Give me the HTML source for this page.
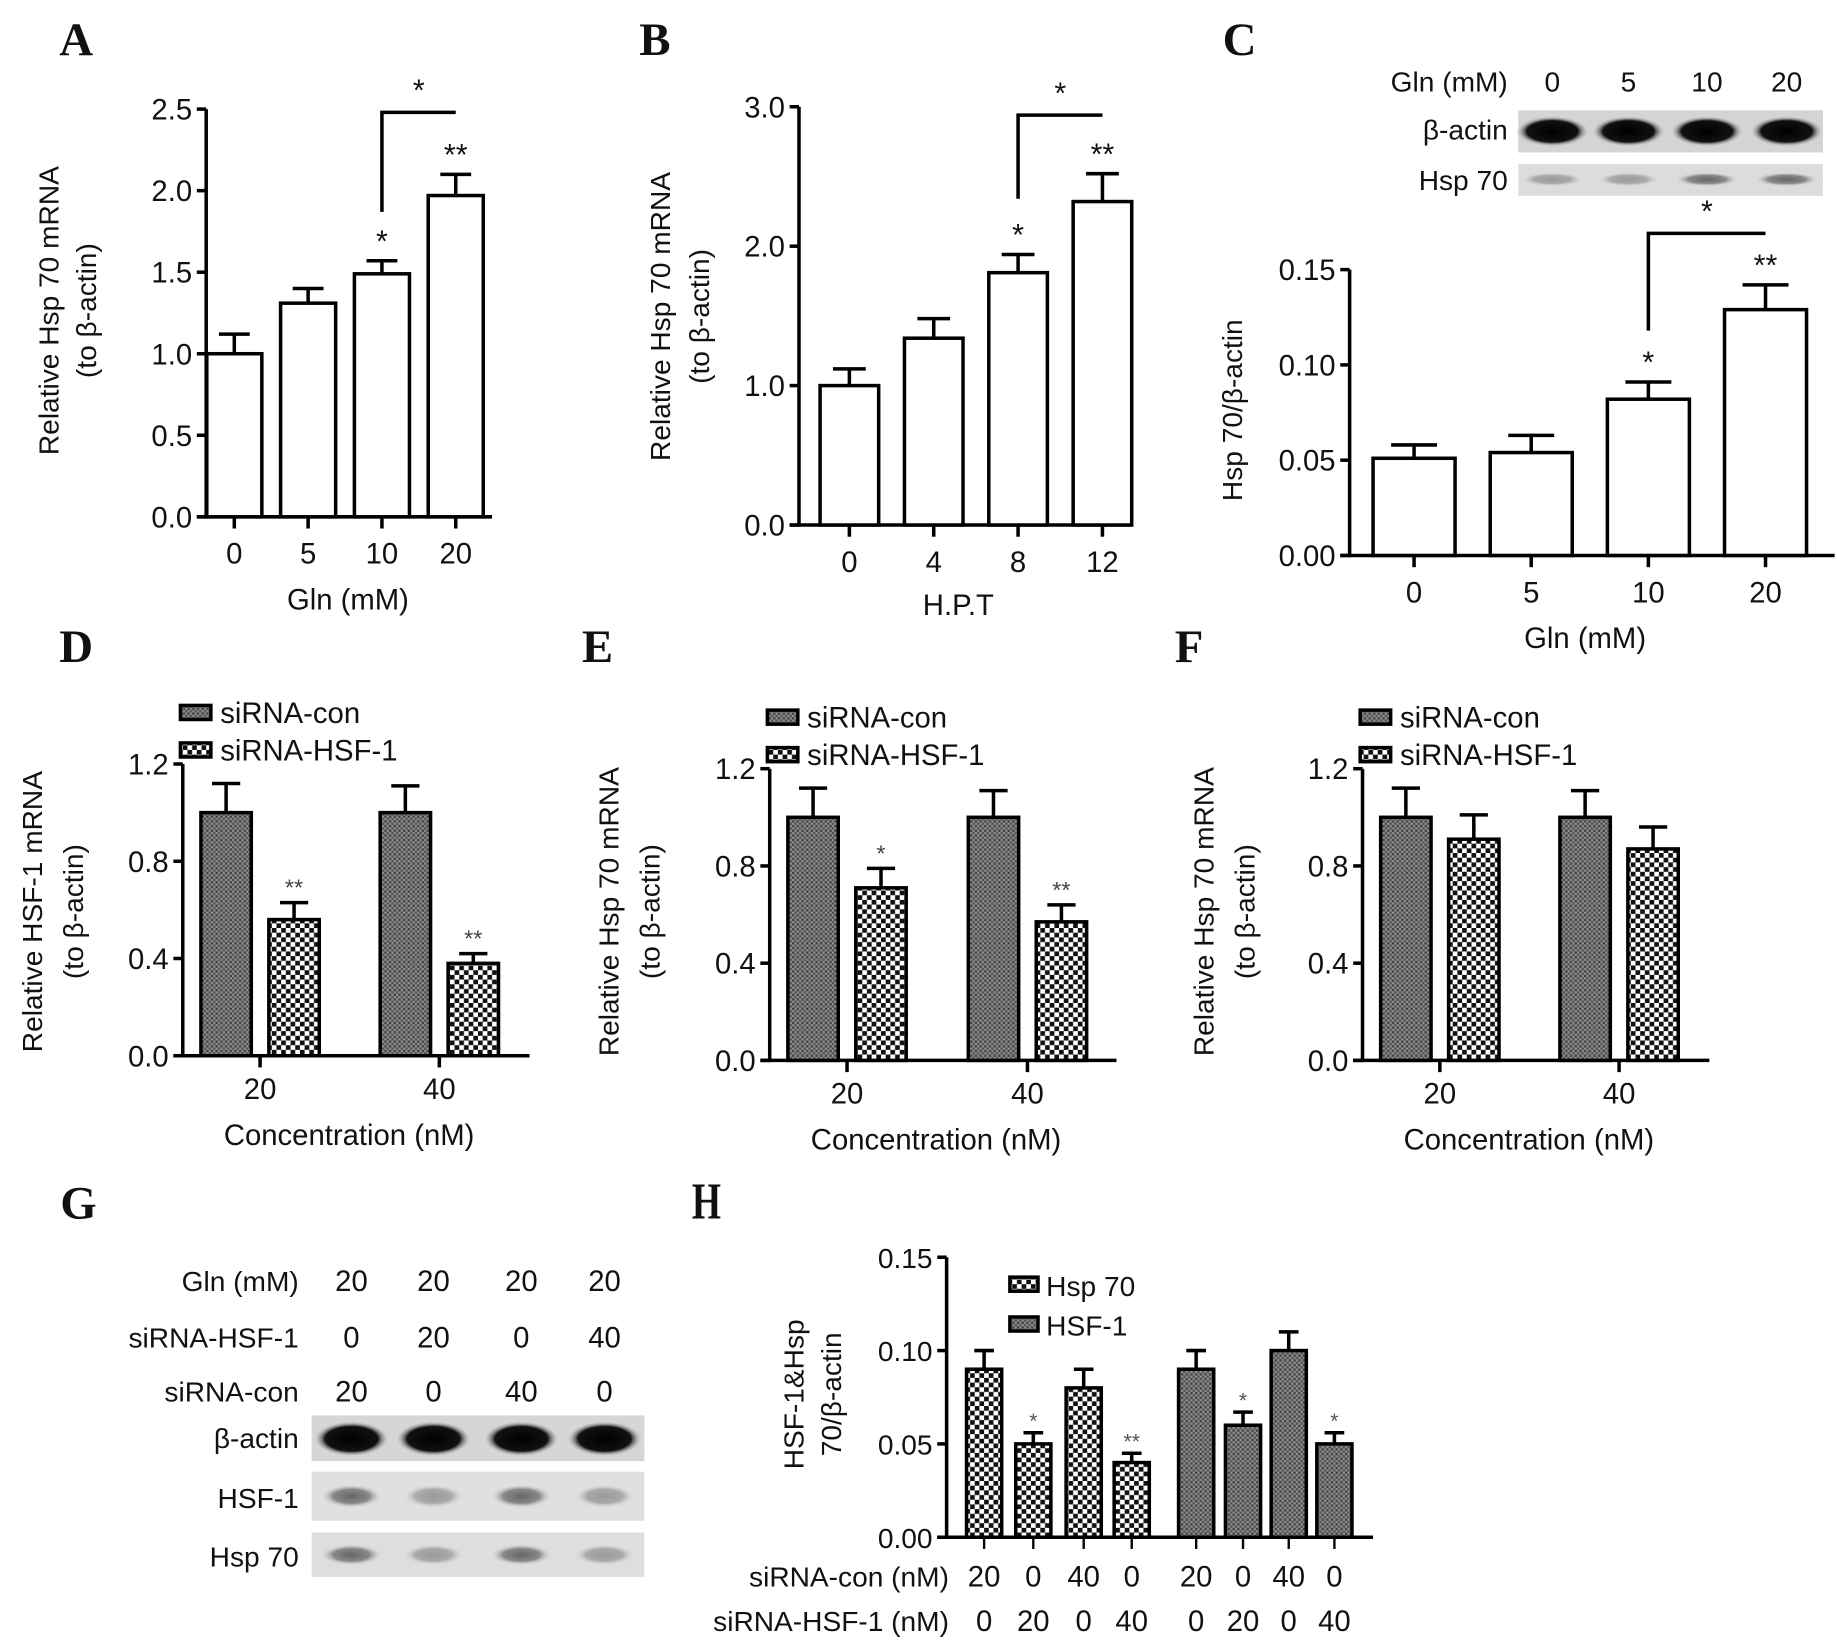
<!DOCTYPE html>
<html><head><meta charset="utf-8">
<style>
html,body{margin:0;padding:0;background:#fff;}
svg{display:block;}
text{font-family:"Liberation Sans",sans-serif;fill:#111;}
.pl{font-family:"Liberation Serif",serif;font-weight:bold;font-size:40px;}
</style></head>
<body>
<svg id="fig" width="1837" height="1644" viewBox="0 0 1568 1403" xmlns="http://www.w3.org/2000/svg">
<defs>
<pattern id="patCon" width="4" height="4" patternUnits="userSpaceOnUse">
<rect width="4" height="4" fill="#8a8a8a"/><rect width="2" height="2" fill="#444"/><rect x="2" y="2" width="2" height="2" fill="#555"/>
</pattern>
<pattern id="patHsf" width="8" height="8" patternUnits="userSpaceOnUse">
<rect width="8" height="8" fill="#fff"/><rect width="4" height="4" fill="#111"/><rect x="4" y="4" width="4" height="4" fill="#111"/>
</pattern>
<radialGradient id="bandDark"><stop offset="0" stop-color="#000"/><stop offset="0.7" stop-color="#111"/><stop offset="1" stop-color="#ccc" stop-opacity="0"/></radialGradient>
<radialGradient id="bandMid"><stop offset="0" stop-color="#666"/><stop offset="0.6" stop-color="#888"/><stop offset="1" stop-color="#d8d8d8" stop-opacity="0"/></radialGradient>
<radialGradient id="bandLight"><stop offset="0" stop-color="#999"/><stop offset="0.6" stop-color="#aaa"/><stop offset="1" stop-color="#ddd" stop-opacity="0"/></radialGradient>
</defs>
<g id="root"></g>
</svg>
<script>
// ---- data ----
const catsA = ["0","5","10","20"];
const valsA = [1.0, 1.31, 1.49, 1.97];
const errA = [0.12, 0.09, 0.08, 0.13];
const ticksA = [0, 0.5, 1.0, 1.5, 2.0, 2.5];
const tickLabelsA = ["0.0","0.5","1.0","1.5","2.0","2.5"];
const starsA = ["", "", "*", "**"];

const catsB = ["0","4","8","12"];
const valsB = [1.0, 1.34, 1.81, 2.32];
const errB = [0.12, 0.14, 0.13, 0.20];
const ticksB = [0, 1, 2, 3];
const tickLabelsB = ["0.0","1.0","2.0","3.0"];
const starsB = ["", "", "*", "**"];

const catsC = ["0","5","10","20"];
const valsC = [0.051, 0.054, 0.082, 0.129];
const errC = [0.007, 0.009, 0.009, 0.013];
const ticksC = [0, 0.05, 0.10, 0.15];
const tickLabelsC = ["0.00","0.05","0.10","0.15"];
const starsC = ["", "", "*", "**"];

const catsD = ["20","40"];
const conD = [1.0, 1.0];
const conErrD = [0.12, 0.11];
const hsfD = [0.56, 0.38];
const hsfErrD = [0.07, 0.04];
const starsD = ["**","**"];

const conE = [1.0, 1.0];
const conErrE = [0.12, 0.11];
const hsfE = [0.71, 0.57];
const hsfErrE = [0.08, 0.07];
const starsE = ["*","**"];

const conF = [1.0, 1.0];
const conErrF = [0.12, 0.11];
const hsfF = [0.91, 0.87];
const hsfErrF = [0.10, 0.09];
const starsF = ["",""];

const ticksDEF = [0, 0.4, 0.8, 1.2];
const tickLabelsDEF = ["0.0","0.4","0.8","1.2"];

const hspH = [0.09, 0.05, 0.08, 0.04];
const hspErrH = [0.01, 0.006, 0.01, 0.005];
const hsfH = [0.09, 0.06, 0.10, 0.05];
const hsfErrH = [0.01, 0.007, 0.01, 0.006];
const starsHspH = ["", "*", "", "**"];
const starsHsfH = ["", "*", "", "*"];
const conRowH = ["20","0","40","0","20","0","40","0"];
const hsfRowH = ["0","20","0","40","0","20","0","40"];
const ticksH = [0, 0.05, 0.10, 0.15];
const tickLabelsH = ["0.00","0.05","0.10","0.15"];

// ---- helpers ----
const NS = "http://www.w3.org/2000/svg";
const root = document.getElementById("root");
function el(tag, attrs, parent, txt){
  const e = document.createElementNS(NS, tag);
  for (const k in attrs) e.setAttribute(k, attrs[k]);
  if (txt !== undefined) e.textContent = txt;
  (parent || root).appendChild(e);
  return e;
}
function group(name){
  const g = el("g", {});
  
  
  return g;
}
function text(p, x, y, s, size, anchor, name, extra){
  const t = el("text", Object.assign({x:x, y:y, "font-size":size, "text-anchor":anchor||"middle"}, extra||{}), p, s);
  
  
  return t;
}
function line(p, x1,y1,x2,y2,w,name){
  const l = el("line",{x1:x1,y1:y1,x2:x2,y2:y2,stroke:"#000","stroke-width":w||3}, p);
  
  
  return l;
}
function yScale(y0, y1, vmax){ return v => y0 - (v / vmax) * (y0 - y1); }

function axes(g, ax, yBottom, yTop, xEnd, ticks, labels, ys, fs){
  line(g, ax, yTop, ax, yBottom+1.5, 3, "y-axis");
  line(g, ax-8, yBottom, xEnd, yBottom, 3, "x-axis");
  ticks.forEach((t,i)=>{
    const y = ys(t);
    line(g, ax-8, y, ax, y, 3, "y-tick");
    text(g, ax-12, y+9, labels[i], fs||25, "end", "y-tick-label");
  });
}
function ylab(g, x, yc, s, fs){
  return text(g, x, yc, s, fs||24, "middle", "y-axis-title", {transform:"rotate(-90 "+x+" "+yc+")"});
}
function bar(g, cx, w, v, e, ys, fill, name){
  const y0 = ys(0), y = ys(v), ye = ys(v+e);
  line(g, cx, y, cx, ye, 3, name+"-error");
  line(g, cx-w*0.28, ye, cx+w*0.28, ye, 3, name+"-error-cap");
  const r = el("rect",{x:cx-w/2, y:y, width:w, height:y0-y, fill:fill, stroke:"#000","stroke-width":3}, g);
  
  
  return ye;
}
function simplePanel(name, cfg){
  const g = group(name);
  const ys = yScale(cfg.y0, cfg.yTop, cfg.vmax);
  axes(g, cfg.ax, cfg.y0, cfg.yTop, cfg.xEnd, cfg.ticks, cfg.labels, ys, cfg.fs);
  cfg.cats.forEach((c,i)=>{
    const cx = cfg.xs[i];
    const ye = bar(g, cx, cfg.bw, cfg.vals[i], cfg.errs[i], ys, "#fff", "bar-"+c);
    line(g, cx, cfg.y0, cx, cfg.y0+10, 3, "x-tick");
    text(g, cx, cfg.y0+40, c, 25, "middle", "x-tick-label");
    if (cfg.stars[i]) text(g, cx, ye-8, cfg.stars[i], 26, "middle", "significance-star");
  });
  const x1 = cfg.xs[2], x2 = cfg.xs[3];
  const yb = ys(cfg.bracketV), yl = ys(cfg.bracketLow);
  const p = el("path",{d:`M${x1},${yl} V${yb} H${x2}`, fill:"none", stroke:"#000","stroke-width":3}, g);
  
  
  text(g, (x1+x2)/2, yb-10, "*", 26, "middle", "bracket-star");
  text(g, cfg.xlx, cfg.xly, cfg.xlabel, 25, "middle", "x-axis-title");
  return {g, ys};
}

// ---- Panel A ----
text(root, 65, 47, "A", 40, "middle", "panel-label-a", {class:"pl"});
const pA = simplePanel("panel-a", {ax:176, y0:441, yTop:93, vmax:2.5, xEnd:420, ticks:ticksA, labels:tickLabelsA,
  cats:catsA, xs:[200,263,326,389], bw:47, vals:valsA, errs:errA, stars:starsA, bracketV:2.48, bracketLow:1.87,
  xlabel:"Gln (mM)", xlx:297, xly:520});
ylab(pA.g, 50, 265, "Relative Hsp 70 mRNA");
ylab(pA.g, 82, 265, "(to β-actin)");

// ---- Panel B ----
text(root, 559, 47, "B", 40, "middle", "panel-label-b", {class:"pl"});
const pB = simplePanel("panel-b", {ax:682, y0:448, yTop:91, vmax:3.0, xEnd:966, ticks:ticksB, labels:tickLabelsB,
  cats:catsB, xs:[725,797,869,941], bw:50, vals:valsB, errs:errB, stars:starsB, bracketV:2.94, bracketLow:2.34,
  xlabel:"H.P.T", xlx:818, xly:525});
ylab(pB.g, 572, 270, "Relative Hsp 70 mRNA");
ylab(pB.g, 605, 270, "(to β-actin)");

// ---- Panel C ----
text(root, 1058, 47, "C", 40, "middle", "panel-label-c", {class:"pl"});
const pC = simplePanel("panel-c", {ax:1152, y0:474, yTop:230, vmax:0.15, xEnd:1566, ticks:ticksC, labels:tickLabelsC,
  cats:catsC, xs:[1207,1307,1407,1507], bw:70, vals:valsC, errs:errC, stars:starsC, bracketV:0.169, bracketLow:0.118,
  xlabel:"Gln (mM)", xlx:1353, xly:553});
ylab(pC.g, 1060, 350, "Hsp 70/β-actin");
// C blot
const gCb = group("panel-c-blot");
text(gCb, 1287, 78, "Gln (mM)", 24, "end", "blot-header");
["0","5","10","20"].forEach((s,i)=> text(gCb, [1325,1390,1457,1525][i], 78, s, 24, "middle", "blot-lane-label"));
text(gCb, 1287, 119, "β-actin", 24, "end", "blot-row-label");
text(gCb, 1287, 162, "Hsp 70", 24, "end", "blot-row-label");
el("rect",{x:1296,y:94,width:260,height:36,fill:"#d4d4d4"},gCb);
el("rect",{x:1296,y:140,width:260,height:27,fill:"#dcdcdc"},gCb);
[1325,1390,1457,1525].forEach((x,i)=>{
  el("ellipse",{cx:x,cy:112,rx:31,ry:13,fill:"url(#bandDark)"},gCb);
  el("ellipse",{cx:x,cy:153,rx:27,ry:6,fill:i<2?"url(#bandLight)":"url(#bandMid)"},gCb);
});

// ---- Panels D,E,F ----
function groupedPanel(name, cfg){
  const g = group(name);
  const ys = yScale(cfg.y0, cfg.yTop, 1.2);
  axes(g, cfg.ax, cfg.y0, cfg.yTop, cfg.ax+296, ticksDEF, tickLabelsDEF, ys, 25);
  catsD.forEach((c,i)=>{
    const cx = cfg.xs[i];
    bar(g, cx-29, 43, cfg.con[i], cfg.conErr[i], ys, "url(#patCon)", "bar-sirna-con-"+c);
    const ye = bar(g, cx+29, 43, cfg.hsf[i], cfg.hsfErr[i], ys, "url(#patHsf)", "bar-sirna-hsf1-"+c);
    if (cfg.stars[i]) { const t=text(g, cx+29, ye-6, cfg.stars[i], 20, "middle", "significance-star"); t.style.fill="#444"; }
    line(g, cx, cfg.y0, cx, cfg.y0+10, 3, "x-tick");
    text(g, cx, cfg.y0+37, c, 25, "middle", "x-tick-label");
  });
  text(g, cfg.ax+142, cfg.y0+76, "Concentration (nM)", 25, "middle", "x-axis-title");
  const lg = el("g",{},g);
  
  
  el("rect",{x:cfg.ax-2,y:cfg.yTop-50,width:26,height:12,fill:"url(#patCon)",stroke:"#000","stroke-width":3},lg);
  text(lg, cfg.ax+32, cfg.yTop-35, "siRNA-con", 25, "start", "legend-entry");
  el("rect",{x:cfg.ax-2,y:cfg.yTop-18,width:26,height:12,fill:"url(#patHsf)",stroke:"#000","stroke-width":3},lg);
  text(lg, cfg.ax+32, cfg.yTop-3, "siRNA-HSF-1", 25, "start", "legend-entry");
  ylab(g, cfg.yl1, 778, cfg.ytitle);
  ylab(g, cfg.yl1+35, 778, "(to β-actin)");
}
text(root, 65, 565, "D", 40, "middle", "panel-label-d", {class:"pl"});
groupedPanel("panel-d", {ax:156, y0:901, yTop:652, xs:[222,375], con:conD, conErr:conErrD, hsf:hsfD, hsfErr:hsfErrD, stars:starsD, yl1:36, ytitle:"Relative HSF-1 mRNA"});
text(root, 510, 565, "E", 40, "middle", "panel-label-e", {class:"pl"});
groupedPanel("panel-e", {ax:657, y0:905, yTop:656, xs:[723,877], con:conE, conErr:conErrE, hsf:hsfE, hsfErr:hsfErrE, stars:starsE, yl1:528, ytitle:"Relative Hsp 70 mRNA"});
text(root, 1015, 565, "F", 40, "middle", "panel-label-f", {class:"pl"});
groupedPanel("panel-f", {ax:1163, y0:905, yTop:656, xs:[1229,1382], con:conF, conErr:conErrF, hsf:hsfF, hsfErr:hsfErrF, stars:starsF, yl1:1036, ytitle:"Relative Hsp 70 mRNA"});

// ---- Panel G ----
text(root, 67, 1040, "G", 40, "middle", "panel-label-g", {class:"pl"});
const gG = group("panel-g-blot");
const laneX = [300,370,445,516];
const gRows = [["Gln (mM)",["20","20","20","20"],1102],["siRNA-HSF-1",["0","20","0","40"],1150],["siRNA-con",["20","0","40","0"],1196]];
gRows.forEach(r=>{
  text(gG, 255, r[2], r[0], 24, "end", "blot-row-header");
  r[1].forEach((s,i)=> text(gG, laneX[i], r[2], s, 25, "middle", "blot-lane-value"));
});
el("rect",{x:266,y:1208,width:284,height:39,fill:"#d6d6d6"},gG);
el("rect",{x:266,y:1256,width:284,height:42,fill:"#e0e0e0"},gG);
el("rect",{x:266,y:1308,width:284,height:38,fill:"#dedede"},gG);
text(gG, 255, 1236, "β-actin", 24, "end", "blot-row-label");
text(gG, 255, 1287, "HSF-1", 24, "end", "blot-row-label");
text(gG, 255, 1337, "Hsp 70", 24, "end", "blot-row-label");
laneX.forEach((x,i)=>{
  el("ellipse",{cx:x,cy:1228,rx:32,ry:15,fill:"url(#bandDark)"},gG);
  el("ellipse",{cx:x,cy:1277,rx:26,ry:10,fill:i%2===0?"url(#bandMid)":"url(#bandLight)"},gG);
  el("ellipse",{cx:x,cy:1327,rx:26,ry:9,fill:i%2===0?"url(#bandMid)":"url(#bandLight)"},gG);
});

// ---- Panel H ----
text(root, 603, 1040, "H", 40, "middle", "panel-label-h", {class:"pl", transform:"translate(603 1040) scale(0.8 1.1) translate(-603 -1040)"});
const gH = group("panel-h");
const ysH = yScale(1312, 1073, 0.15);
axes(gH, 808, 1312, 1073, 1172, ticksH, tickLabelsH, ysH, 24);
const xsHsp = [840,882,925,966];
const xsHsf = [1021,1061,1100,1139];
hspH.forEach((v,i)=>{
  const ye = bar(gH, xsHsp[i], 30, v, hspErrH[i], ysH, "url(#patHsf)", "bar-hsp70-"+i);
  if (starsHspH[i]) { const t=text(gH, xsHsp[i], ye-4, starsHspH[i], 18, "middle", "significance-star"); t.style.fill="#555"; }
  line(gH, xsHsp[i], 1312, xsHsp[i], 1322, 2, "x-tick");
});
hsfH.forEach((v,i)=>{
  const ye = bar(gH, xsHsf[i], 30, v, hsfErrH[i], ysH, "url(#patCon)", "bar-hsf1-"+i);
  if (starsHsfH[i]) { const t=text(gH, xsHsf[i], ye-4, starsHsfH[i], 18, "middle", "significance-star"); t.style.fill="#555"; }
  line(gH, xsHsf[i], 1312, xsHsf[i], 1322, 2, "x-tick");
});
const allX = xsHsp.concat(xsHsf);
text(gH, 810, 1354, "siRNA-con (nM)", 24, "end", "row-header");
text(gH, 810, 1392, "siRNA-HSF-1 (nM)", 24, "end", "row-header");
conRowH.forEach((s,i)=> text(gH, allX[i], 1354, s, 25, "middle", "row-value"));
hsfRowH.forEach((s,i)=> text(gH, allX[i], 1392, s, 25, "middle", "row-value"));
const lgH = el("g",{},gH);


el("rect",{x:862,y:1090,width:24,height:12,fill:"url(#patHsf)",stroke:"#000","stroke-width":3},lgH);
text(lgH, 893, 1106, "Hsp 70", 24, "start", "legend-entry");
el("rect",{x:862,y:1124,width:24,height:12,fill:"url(#patCon)",stroke:"#000","stroke-width":3},lgH);
text(lgH, 893, 1140, "HSF-1", 24, "start", "legend-entry");
ylab(gH, 686, 1190, "HSF-1&Hsp");
ylab(gH, 718, 1190, "70/β-actin");
</script>
</body></html>
